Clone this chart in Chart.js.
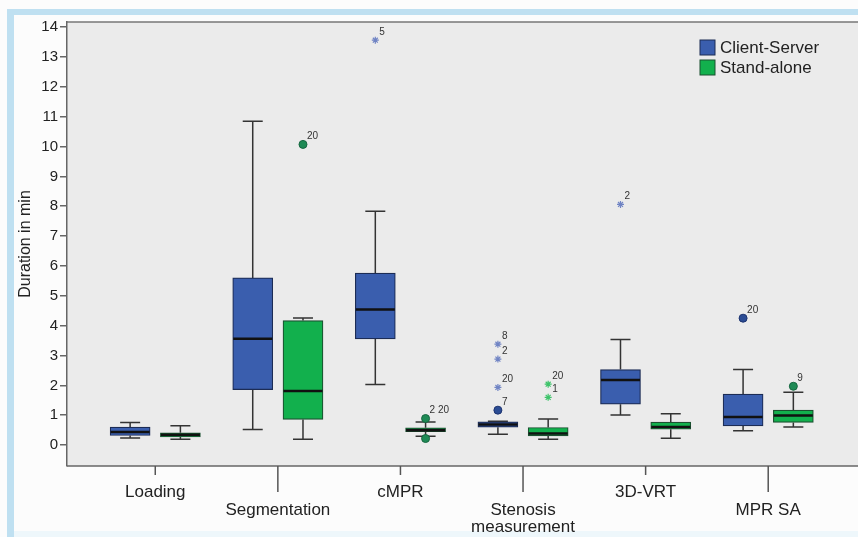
<!DOCTYPE html>
<html>
<head>
<meta charset="utf-8">
<script src="https://cdn.jsdelivr.net/npm/chart.js@4.4.0/dist/chart.umd.min.js"></script>
<style>
  body { margin: 0; background: #fff; }
  #wrap { width: 858px; height: 537px; }
</style>
</head>
<body>
<div id="wrap"><canvas id="boxChart"></canvas></div>
<script>
// categories on the x axis
const categories = ['Loading', 'Segmentation', 'cMPR', ['Stenosis', 'measurement'], '3D-VRT', 'MPR SA'];
const yTicks = [0, 1, 2, 3, 4, 5, 6, 7, 8, 9, 10, 11, 12, 13, 14];

// Client-Server box values
const csMin    = [0.24, 0.52, 2.03, 0.36, 1.01, 0.48];
const csQ1     = [0.32, 1.86, 3.56, 0.60, 1.37, 0.64];
const csMedian = [0.44, 3.56, 4.54, 0.69, 2.18, 0.94];
const csQ3     = [0.60, 5.60, 5.76, 0.78, 2.53, 1.71];
const csMax    = [0.76, 10.85, 7.83, 0.80, 3.54, 2.53];

// Stand-alone box values
const saMin    = [0.20, 0.20, 0.30, 0.20, 0.23, 0.61];
const saQ1     = [0.27, 0.86, 0.45, 0.31, 0.53, 0.76];
const saMedian = [0.35, 1.81, 0.50, 0.39, 0.61, 0.99];
const saQ3     = [0.41, 4.17, 0.58, 0.59, 0.77, 1.17];
const saMax    = [0.65, 4.26, 0.77, 0.87, 1.05, 1.77];

// outliers: category index, value, case id, extreme (star) or not
const csOutliers = [
  { cat: 2, y: 13.56, id: '5',  star: true },
  { cat: 3, y: 1.17,  id: '7',  star: false },
  { cat: 3, y: 1.93,  id: '20', star: true },
  { cat: 3, y: 2.88,  id: '2',  star: true },
  { cat: 3, y: 3.38,  id: '8',  star: true },
  { cat: 4, y: 8.06,  id: '2',  star: true },
  { cat: 5, y: 4.25,  id: '20', star: false }
];
const saOutliers = [
  { cat: 1, y: 10.07, id: '20',   star: false },
  { cat: 2, y: 0.89,  id: '2 20', star: false },
  { cat: 2, y: 0.22,  id: '',     star: false },
  { cat: 3, y: 2.04,  id: '20',   star: true },
  { cat: 3, y: 1.60,  id: '1',    star: true },
  { cat: 5, y: 1.97,  id: '9',    star: false }
];

const shift = 0.205;
const series = [
  { min: csMin, q1: csQ1, med: csMedian, q3: csQ3, max: csMax, dx: -shift },
  { min: saMin, q1: saQ1, med: saMedian, q3: saQ3, max: saMax, dx: shift }
];

function boxData(q1, q3, dx) {
  return q1.map((v, i) => ({ x: i + dx, y: [v, q3[i]] }));
}
function outlierData(list, star, dx) {
  return list.filter(o => o.star === star).map(o => ({ x: o.cat + dx, y: o.y, id: o.id }));
}

const framePlugin = {
  id: 'frame',
  beforeDraw(chart) {
    const c = chart.ctx, a = chart.chartArea;
    c.save();
    c.fillStyle = '#fcfcfc';
    c.fillRect(0, 0, chart.width, chart.height);
    c.fillStyle = '#bfe0f1';
    c.fillRect(7, 9, chart.width - 7, 6);
    c.fillRect(7, 9, 7, chart.height - 9);
    c.fillStyle = '#eef7fb';
    c.fillRect(14, 531, chart.width - 14, 6);
    c.fillStyle = '#ebebeb';
    c.fillRect(a.left, a.top, chart.width - a.left, a.bottom - a.top);
    c.strokeStyle = '#777';
    c.lineWidth = 1.5;
    c.beginPath();
    c.moveTo(a.left, a.top);
    c.lineTo(chart.width, a.top);
    c.stroke();
    c.restore();
  },
  beforeDatasetsDraw(chart) {
    // whiskers and caps
    const c = chart.ctx, xs = chart.scales.x, ys = chart.scales.y;
    c.save();
    c.strokeStyle = '#333';
    c.lineWidth = 1.5;
    series.forEach(s => {
      s.q1.forEach((q, i) => {
        const x = xs.getPixelForValue(i + s.dx);
        const yMax = ys.getPixelForValue(s.max[i]), yQ3 = ys.getPixelForValue(s.q3[i]);
        const yMin = ys.getPixelForValue(s.min[i]), yQ1 = ys.getPixelForValue(q);
        c.beginPath();
        c.moveTo(x, yMax); c.lineTo(x, yQ3);
        c.moveTo(x, yQ1); c.lineTo(x, yMin);
        c.moveTo(x - 10, yMax); c.lineTo(x + 10, yMax);
        c.moveTo(x - 10, yMin); c.lineTo(x + 10, yMin);
        c.stroke();
      });
    });
    c.restore();
  },
  afterDatasetDraw(chart, args) {
    // medians on top of each box series
    if (args.index > 1) return;
    const s = series[args.index];
    const c = chart.ctx, xs = chart.scales.x, ys = chart.scales.y;
    c.save();
    c.strokeStyle = '#111';
    c.lineWidth = 2.5;
    s.med.forEach((m, i) => {
      const x = xs.getPixelForValue(i + s.dx), y = ys.getPixelForValue(m);
      c.beginPath();
      c.moveTo(x - 19.5, y); c.lineTo(x + 19.5, y);
      c.stroke();
    });
    c.restore();
  },
  afterDraw(chart) {
    const c = chart.ctx, xs = chart.scales.x, a = chart.chartArea;
    c.save();
    // bottom axis line across the full width
    c.strokeStyle = '#666';
    c.lineWidth = 1.5;
    c.beginPath();
    c.moveTo(a.left, a.bottom);
    c.lineTo(chart.width, a.bottom);
    c.stroke();
    // x tick marks, long ones under the lowered labels
    c.strokeStyle = '#555';
    categories.forEach((cat, i) => {
      const x = xs.getPixelForValue(i);
      c.beginPath();
      c.moveTo(x, a.bottom);
      c.lineTo(x, a.bottom + (i % 2 ? 26 : 9));
      c.stroke();
    });
    // case numbers next to outliers
    c.fillStyle = '#333';
    c.font = '10px "Liberation Sans", Arial, sans-serif';
    c.textAlign = 'left';
    c.textBaseline = 'middle';
    chart.data.datasets.forEach((ds, k) => {
      if (ds.type !== 'scatter') return;
      chart.getDatasetMeta(k).data.forEach((pt, j) => {
        c.fillText(ds.data[j].id, pt.x + 4, pt.y - 8);
      });
    });
    // legend
    c.font = '17px "Liberation Sans", Arial, sans-serif';
    [0, 1].forEach(k => {
      const ds = chart.data.datasets[k];
      c.fillStyle = ds.backgroundColor;
      c.fillRect(700, 40 + 20 * k, 15, 15);
      c.strokeStyle = ds.borderColor;
      c.lineWidth = 1;
      c.strokeRect(700, 40 + 20 * k, 15, 15);
      c.fillStyle = '#222';
      c.fillText(ds.label, 720, 48 + 20 * k);
    });
    c.restore();
  }
};

new Chart(document.getElementById('boxChart'), {
  type: 'bar',
  data: {
    datasets: [
      {
        label: 'Client-Server',
        data: boxData(csQ1, csQ3, -shift),
        backgroundColor: '#3a5eae',
        borderColor: '#1c2c55',
        borderWidth: 1.2,
        borderSkipped: false,
        barThickness: 40,
        grouped: false,
        order: 1
      },
      {
        label: 'Stand-alone',
        data: boxData(saQ1, saQ3, shift),
        backgroundColor: '#12b04d',
        borderColor: '#1b5130',
        borderWidth: 1.2,
        borderSkipped: false,
        barThickness: 40,
        grouped: false,
        order: 1
      },
      {
        type: 'scatter',
        data: outlierData(csOutliers, false, -shift),
        pointStyle: 'circle',
        pointRadius: 4,
        backgroundColor: '#2b4c94',
        borderColor: '#1d3470',
        borderWidth: 1,
        order: 0
      },
      {
        type: 'scatter',
        data: outlierData(csOutliers, true, -shift),
        pointStyle: 'star',
        pointRadius: 3.5,
        borderColor: '#7084c4',
        borderWidth: 1.2,
        order: 0
      },
      {
        type: 'scatter',
        data: outlierData(saOutliers, false, shift),
        pointStyle: 'circle',
        pointRadius: 4,
        backgroundColor: '#1e8a55',
        borderColor: '#166640',
        borderWidth: 1,
        order: 0
      },
      {
        type: 'scatter',
        data: outlierData(saOutliers, true, shift),
        pointStyle: 'star',
        pointRadius: 3.5,
        borderColor: '#3ec46a',
        borderWidth: 1.2,
        order: 0
      }
    ]
  },
  options: {
    responsive: true,
    maintainAspectRatio: false,
    animation: false,
    events: [],
    layout: { padding: { top: 22, left: 0, right: 0, bottom: 0 } },
    plugins: {
      legend: { display: false },
      tooltip: { enabled: false }
    },
    scales: {
      x: {
        type: 'linear',
        offset: false,
        min: -0.72,
        max: 5.69,
        afterFit(scale) { scale.height = 71; },
        afterBuildTicks(scale) { scale.ticks = categories.map((c, i) => ({ value: i })); },
        grid: { display: false, drawTicks: false },
        border: { display: false },
        ticks: {
          autoSkip: false,
          maxRotation: 0,
          padding: 18,
          color: '#222',
          font: { family: '"Liberation Sans", Arial, sans-serif', size: 17, lineHeight: 1.02 },
          callback(value) {
            const lbl = categories[value];
            const lines = Array.isArray(lbl) ? lbl : [lbl];
            return value % 2 ? [''].concat(lines) : lines;
          }
        }
      },
      y: {
        min: -0.7,
        max: 14.17,
        afterFit(scale) { scale.width = 67; },
        afterBuildTicks(scale) { scale.ticks = yTicks.map(v => ({ value: v })); },
        grid: { drawOnChartArea: false, tickLength: 7, color: '#666', lineWidth: 1.5 },
        border: { display: true, color: '#666', width: 1.5 },
        ticks: {
          padding: 2,
          color: '#222',
          font: { family: '"Liberation Sans", Arial, sans-serif', size: 15 }
        },
        title: {
          display: true,
          text: 'Duration in min',
          color: '#222',
          padding: { top: 16, bottom: 0 },
          font: { family: '"Liberation Sans", Arial, sans-serif', size: 16 }
        }
      }
    }
  },
  plugins: [framePlugin]
});
</script>
</body>
</html>
